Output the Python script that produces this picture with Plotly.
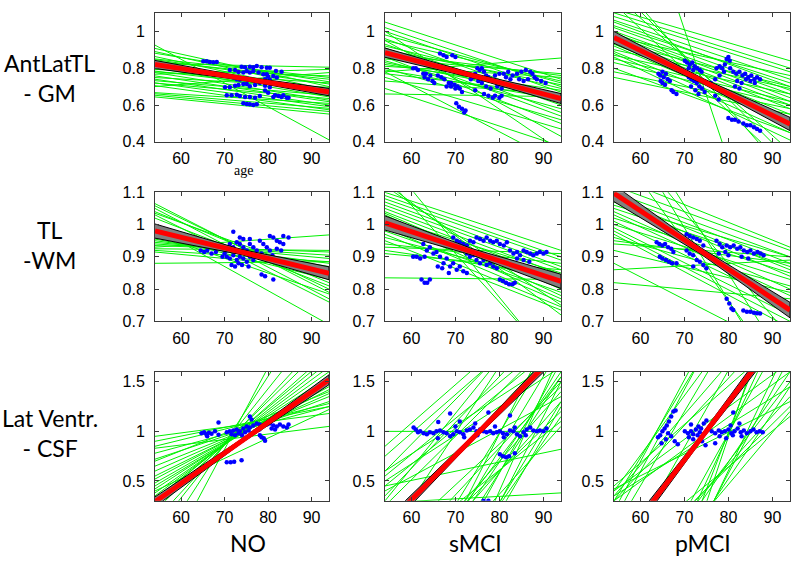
import plotly.graph_objects as go

# ---------------- data ----------------
age_range = [54, 94]
age_ticks = [60, 70, 80, 90]
band_ages = [54, 74, 94]

row_names = ["AntLatTL<br>- GM", "TL<br>-WM", "Lat Ventr.<br>- CSF"]
col_names = ["NO", "sMCI", "pMCI"]

gm_range = [0.4, 1.1]
gm_ticks = [0.4, 0.6, 0.8, 1.0]
gm_ticktext = ["0.4", "0.6", "0.8", "1"]
wm_range = [0.7, 1.1]
wm_ticks = [0.7, 0.8, 0.9, 1.0, 1.1]
wm_ticktext = ["0.7", "0.8", "0.9", "1", "1.1"]
csf_range = [0.3, 1.6]
csf_ticks = [0.5, 1.0, 1.5]
csf_ticktext = ["0.5", "1", "1.5"]

# individual subject fits: value at age 54 (left) and at age 94 (right)
gm_no_left = [0.925, 0.907, 0.89, 0.881, 0.863, 0.846, 0.837, 0.825, 0.811, 0.802, 0.793, 0.784, 0.776,
              0.767, 0.758, 0.749, 0.740, 0.732, 0.719, 0.705, 0.667, 0.661, 0.653, 0.644, 0.70, 0.72,
              0.85, 0.78]
gm_no_right = [0.411, 0.70, 0.68, 0.726, 0.66, 0.714, 0.74, 0.805, 0.688, 0.644, 0.758, 0.674, 0.626,
               0.793, 0.618, 0.696, 0.60, 0.653, 0.635, 0.574, 0.609, 0.582, 0.565, 0.551, 0.776, 0.591,
               0.75, 0.72]
gm_smci_left = [1.05, 1.02, 1.00, 0.98, 0.96, 0.95, 0.93, 0.92, 0.91, 0.90, 0.89, 0.88, 0.87, 0.86, 0.85,
                0.84, 0.83, 0.82, 0.81, 0.80, 0.79, 0.78, 0.77, 0.75, 0.73, 0.66, 0.78, 0.69, 0.95, 1.0]
gm_smci_right = [0.74, 0.70, 0.67, 0.72, 0.62, 0.73, 0.60, 0.69, 0.56, 0.71, 0.54, 0.76, 0.64, 0.50, 0.77,
                 0.58, 0.65, 0.68, 0.75, 0.52, 0.63, 0.855, 0.66, 0.47, 0.66, 0.645, 0.28, 0.376, 0.43, 0.35]
gm_pmci_left = [1.12, 1.10, 1.08, 1.06, 1.05, 1.03, 1.02, 1.00, 0.99, 0.98, 0.97, 0.96, 0.95, 0.94, 0.93, 0.92,
                0.90, 0.89, 0.88, 0.87, 0.86, 0.85, 0.83, 0.80, 0.78, 0.75, 1.20, 1.25, 1.15, 2.15, 1.30]
gm_pmci_right = [0.84, 0.80, 0.78, 0.74, 0.70, 0.72, 0.68, 0.66, 0.64, 0.62, 0.76, 0.60, 0.58, 0.70, 0.55, 0.52,
                 0.69, 0.50, 0.45, 0.66, 0.41, 0.62, 0.60, 0.45, 0.58, 0.55, 0.35, 0.30, 0.25, -0.70, 0.20]

wm_no_left = [1.065, 1.058, 1.05, 1.04, 1.035, 1.03, 1.02, 0.97, 0.965, 0.96, 0.955, 0.95, 0.945, 0.94,
              0.935, 0.93, 0.925, 0.92, 0.915, 0.88, 0.99, 0.97]
wm_no_right = [0.79, 0.80, 0.77, 0.82, 0.84, 0.76, 0.81, 0.85, 0.83, 0.87, 0.86, 0.88, 0.895, 0.905,
               0.915, 0.968, 0.92, 0.885, 0.865, 0.885, 0.69, 0.785]
wm_smci_left = [1.10, 1.09, 1.08, 1.07, 1.06, 1.05, 1.04, 1.035, 1.03, 1.02, 1.01, 1.00, 0.99, 0.98, 0.97,
                0.96, 0.95, 0.94, 0.93, 0.92, 0.91, 0.835, 1.21, 1.15, 1.13, 1.12]
wm_smci_right = [0.92, 0.90, 0.89, 0.87, 0.86, 0.845, 0.83, 0.80, 0.78, 0.85, 0.77, 0.81, 0.76, 0.79, 0.745,
                 0.82, 0.735, 0.88, 0.91, 0.84, 0.86, 0.83, 0.54, 0.55, 0.72, 0.75]
wm_pmci_left = [1.15, 1.12, 1.10, 1.09, 1.08, 1.07, 1.06, 1.05, 1.04, 1.03, 1.02, 1.01, 1.00, 0.99, 0.98,
                0.97, 0.96, 0.95, 0.94, 0.92, 0.88, 0.86, 0.82, 1.30, 1.40, 1.25, 1.35]
wm_pmci_right = [0.93, 0.92, 0.90, 0.88, 0.86, 0.84, 0.90, 0.87, 0.80, 0.78, 0.85, 0.75, 0.83, 0.72, 0.70,
                 0.68, 0.81, 0.88, 0.90, 0.79, 0.60, 0.89, 0.77, 0.65, 0.55, 0.50, 0.45]

csf_no_left = [0.83, 0.78, 0.72, 0.65, 0.60, 0.55, 0.52, 0.48, 0.45, 0.42, 0.40, 0.38, 0.35, 0.32, 0.30,
               0.25, 0.20, 0.10, 0.00, 0.90, 0.95, 0.85, 0.70, -0.20, -0.50]
csf_no_right = [1.05, 1.25, 1.30, 1.35, 1.38, 1.42, 1.45, 1.48, 1.50, 1.55, 1.22, 1.60, 1.65, 1.70, 1.75,
                1.80, 1.90, 2.00, 2.20, 1.25, 1.18, 1.28, 1.40, 2.50, 2.80]
csf_smci_left = [0.85, 0.75, 0.60, 0.55, 0.45, 0.60, 0.35, 0.30, 0.25, -1.0, -0.8, -0.6, -0.7, -0.4, -0.5,
                 -0.2, -1.2, -1.5, -0.3, 0.0, -0.9, -1.3, 1.0, 0.28, 0.45, 0.50, 0.40, -0.1, -1.1,
                 -1.6, -2.0, -1.4, -0.9, -2.2, -1.8]
csf_smci_right = [2.40, 2.30, 2.40, 2.00, 1.90, 1.75, 2.20, 2.50, 2.00, 1.60, 1.55, 1.40, 1.30, 1.50, 1.20,
                  1.45, 1.55, 1.70, 1.10, 1.90, 2.00, 2.20, 1.00, 0.38, 0.82, 1.65, 1.35, 2.60, 1.85,
                  1.30, 1.50, 1.15, 1.05, 1.80, 1.25]
csf_pmci_left = [0.20, 0.30, 0.10, 0.40, 0.00, 0.35, 0.30, 0.45, 0.40, -1.5, -1.0, -0.8, -1.2, -0.6, -0.5,
                 -0.3, -2.0, -1.8, -1.6, -2.5, -0.9, 0.30, 0.35, 0.42, -0.4, -1.1]
csf_pmci_right = [3.50, 3.20, 3.40, 2.80, 3.00, 2.40, 2.20, 2.00, 1.70, 2.30, 1.60, 1.50, 1.45, 1.35, 1.25,
                  1.15, 2.60, 1.90, 1.75, 2.80, 1.20, 1.60, 1.45, 1.30, 2.70, 2.10]

# measurements (age, value)
gm_no_dots = [(65.1, 0.837), (65.9, 0.837), (66.6, 0.833), (67.4, 0.832), (68.2, 0.833),
              (73.9, 0.807), (74.7, 0.805), (75.8, 0.807), (76.6, 0.805), (77.4, 0.811), (78.5, 0.805),
              (79.7, 0.802), (80.4, 0.802), (81.8, 0.784), (83.1, 0.781),
              (71.2, 0.790), (72.4, 0.790), (73.2, 0.779), (74.3, 0.776), (75.1, 0.784), (75.8, 0.776),
              (76.6, 0.784), (77.8, 0.776), (78.9, 0.767), (79.7, 0.767), (80.0, 0.754), (81.2, 0.758),
              (82.0, 0.749),
              (72.0, 0.749), (72.8, 0.740), (73.5, 0.737), (75.1, 0.744), (76.2, 0.737), (77.4, 0.732),
              (78.1, 0.726), (79.3, 0.740), (80.4, 0.737), (81.6, 0.719), (82.7, 0.714),
              (70.1, 0.696), (71.2, 0.696), (72.4, 0.705), (73.2, 0.709), (74.3, 0.714), (75.1, 0.714),
              (75.8, 0.702), (77.0, 0.709), (78.1, 0.719), (79.3, 0.705), (80.4, 0.696),
              (70.5, 0.653), (71.6, 0.653), (72.8, 0.656), (73.5, 0.649), (74.7, 0.644), (75.8, 0.644),
              (77.0, 0.639), (78.1, 0.649),
              (74.3, 0.609), (75.1, 0.605), (75.8, 0.604), (76.6, 0.600), (77.4, 0.604),
              (81.2, 0.644), (81.6, 0.653), (82.4, 0.649), (83.1, 0.644), (83.5, 0.653), (84.3, 0.639),
              (84.7, 0.639), (79.3, 0.679), (80.0, 0.667)]
gm_smci_dots = [(60.4, 0.80), (61.0, 0.80), (61.5, 0.79), (62.7, 0.77), (63.3, 0.77), (63.0, 0.75), (63.8, 0.74),
                (64.3, 0.76), (64.8, 0.73), (65.2, 0.72), (66.0, 0.76), (66.5, 0.88), (67.3, 0.87), (68.0, 0.86),
                (69.3, 0.87), (70.0, 0.86), (66.8, 0.75), (67.5, 0.74), (68.5, 0.72), (69.0, 0.72), (69.8, 0.71),
                (70.5, 0.70), (71.0, 0.69), (71.5, 0.67), (68.0, 0.70), (69.0, 0.70), (70.0, 0.69), (70.2, 0.61),
                (70.8, 0.59), (71.5, 0.58), (72.0, 0.56), (72.3, 0.57), (73.5, 0.74), (74.0, 0.75), (74.5, 0.77),
                (75.0, 0.80), (75.5, 0.79), (76.0, 0.80), (76.5, 0.78), (77.0, 0.76), (77.5, 0.75), (75.2, 0.73),
                (76.0, 0.72), (77.0, 0.70), (78.0, 0.69), (74.5, 0.68), (76.5, 0.66), (77.5, 0.65), (78.5, 0.64),
                (79.0, 0.65), (80.0, 0.64), (80.5, 0.65), (79.0, 0.76), (80.0, 0.77), (81.0, 0.77), (82.0, 0.78),
                (81.5, 0.75), (82.5, 0.74), (83.0, 0.76), (84.0, 0.77), (85.0, 0.78), (86.0, 0.79), (87.0, 0.78),
                (87.5, 0.77), (88.0, 0.75), (88.5, 0.74), (89.5, 0.73), (90.5, 0.72), (84.5, 0.74), (85.5, 0.73),
                (86.5, 0.74), (79.5, 0.70), (80.5, 0.69)]
gm_pmci_dots = [(64.1, 0.77), (64.5, 0.76), (65.0, 0.78), (65.3, 0.75), (65.8, 0.77), (66.2, 0.74), (66.7, 0.73),
                (65.0, 0.72), (65.6, 0.71), (64.6, 0.73), (67.1, 0.68), (67.5, 0.67), (68.2, 0.66),
                (70.1, 0.84), (70.6, 0.83), (71.2, 0.82), (71.8, 0.83), (72.3, 0.81), (72.9, 0.80), (73.5, 0.79),
                (73.9, 0.78), (71.0, 0.80), (72.0, 0.79), (71.0, 0.75), (71.6, 0.74), (72.2, 0.73), (72.8, 0.72),
                (73.4, 0.70), (74.0, 0.69), (74.6, 0.67), (72.5, 0.68), (73.2, 0.66), (71.5, 0.70),
                (77.3, 0.80), (78.0, 0.81), (78.6, 0.80), (79.2, 0.82), (79.6, 0.85), (80.0, 0.86), (80.3, 0.84),
                (79.0, 0.78), (80.4, 0.80), (81.1, 0.78), (81.8, 0.77), (82.5, 0.78), (83.2, 0.76), (83.8, 0.77),
                (84.5, 0.75), (85.2, 0.76), (85.9, 0.74), (86.5, 0.75), (87.2, 0.74), (82.0, 0.73), (83.0, 0.72),
                (84.0, 0.74), (85.0, 0.73), (86.0, 0.72), (81.5, 0.70), (82.5, 0.69), (78.0, 0.76), (77.0, 0.74),
                (76.0, 0.72), (80.0, 0.53), (80.8, 0.52), (81.5, 0.52), (82.3, 0.51), (83.4, 0.50), (84.2, 0.49),
                (85.0, 0.49), (85.8, 0.48), (86.5, 0.47), (87.2, 0.46), (77.0, 0.65), (77.8, 0.63)]

wm_no_dots = [(64.5, 0.92), (65.3, 0.915), (66.0, 0.92), (67.0, 0.91), (68.0, 0.915), (72.0, 0.978),
              (73.5, 0.96), (74.3, 0.955), (75.8, 0.955), (69.7, 0.93), (70.5, 0.92), (71.2, 0.94), (72.0, 0.93),
              (72.8, 0.945), (73.5, 0.94), (74.3, 0.93), (75.1, 0.92), (75.8, 0.94), (76.6, 0.93), (77.4, 0.92),
              (70.5, 0.90), (71.2, 0.895), (72.0, 0.905), (72.8, 0.89), (73.5, 0.90), (74.3, 0.895),
              (75.1, 0.885), (75.8, 0.90), (76.6, 0.89), (71.6, 0.875), (72.4, 0.87), (73.2, 0.88), (74.0, 0.875),
              (75.5, 0.87), (70.0, 0.91), (69.5, 0.90), (78.1, 0.95), (78.9, 0.94), (79.7, 0.93), (80.4, 0.92),
              (78.5, 0.91), (79.3, 0.90), (80.0, 0.895), (81.0, 0.905), (80.4, 0.965), (81.2, 0.96), (82.0, 0.95),
              (82.7, 0.945), (83.5, 0.94), (83.5, 0.965), (84.7, 0.96), (79.3, 0.84), (78.5, 0.845),
              (81.2, 0.83), (82.0, 0.925), (83.0, 0.92)]
wm_smci_dots = [(60.4, 0.90), (61.2, 0.90), (62.0, 0.895), (62.7, 0.94), (63.5, 0.92), (64.2, 0.93), (65.0, 0.91),
                (63.0, 0.90), (62.3, 0.83), (63.0, 0.82), (63.6, 0.82), (64.2, 0.83), (65.7, 0.915), (66.5, 0.90),
                (67.3, 0.88), (68.0, 0.895), (68.8, 0.87), (69.5, 0.88), (70.3, 0.86), (71.0, 0.87), (71.8, 0.855),
                (72.6, 0.85), (66.0, 0.87), (67.0, 0.865), (68.5, 0.85), (69.5, 0.96), (70.3, 0.95), (71.0, 0.945),
                (71.8, 0.94), (72.6, 0.935), (73.3, 0.95), (74.1, 0.945), (74.8, 0.96), (75.6, 0.955), (76.4, 0.95),
                (77.1, 0.96), (72.6, 0.91), (73.3, 0.90), (74.1, 0.905), (74.8, 0.89), (75.6, 0.88), (76.4, 0.89),
                (77.1, 0.875), (77.9, 0.88), (78.6, 0.87), (79.4, 0.865), (77.9, 0.95), (78.6, 0.945), (79.4, 0.95),
                (80.1, 0.94), (81.0, 0.935), (81.7, 0.945), (80.1, 0.83), (80.8, 0.825), (81.5, 0.82),
                (82.2, 0.815), (83.0, 0.815), (83.5, 0.82), (82.4, 0.92), (83.2, 0.91), (84.0, 0.915),
                (84.7, 0.905), (85.5, 0.92), (86.2, 0.915), (87.0, 0.91), (87.7, 0.905), (88.5, 0.91),
                (89.2, 0.915), (90.0, 0.91), (90.7, 0.915), (84.0, 0.895), (85.5, 0.89), (86.8, 0.885)]
wm_pmci_dots = [(63.7, 0.945), (64.3, 0.94), (65.0, 0.935), (65.6, 0.94), (66.3, 0.93), (67.0, 0.925),
                (67.5, 0.915), (64.4, 0.90), (65.0, 0.895), (65.8, 0.89), (66.5, 0.885), (67.2, 0.88),
                (68.2, 0.88), (70.5, 0.97), (71.2, 0.965), (72.0, 0.96), (72.8, 0.955), (73.5, 0.95), (74.3, 0.935),
                (71.5, 0.94), (70.5, 0.92), (71.2, 0.91), (72.0, 0.905), (72.8, 0.89), (73.5, 0.885), (74.3, 0.875),
                (75.0, 0.865), (72.0, 0.87), (77.3, 0.95), (78.0, 0.94), (78.6, 0.93), (79.3, 0.915), (80.0, 0.905),
                (77.8, 0.91), (79.6, 0.935), (80.4, 0.93), (81.2, 0.935), (82.0, 0.925), (82.7, 0.93), (83.5, 0.92),
                (84.3, 0.915), (85.0, 0.92), (85.8, 0.91), (86.6, 0.915), (87.3, 0.91), (88.0, 0.905), (83.0, 0.90),
                (84.5, 0.895), (79.6, 0.77), (80.2, 0.755), (80.7, 0.74), (81.1, 0.735), (83.4, 0.734),
                (84.2, 0.73), (85.0, 0.73), (85.8, 0.727), (86.5, 0.725), (87.2, 0.724)]

csf_no_dots = [(64.7, 0.98), (65.3, 0.99), (65.8, 0.97), (66.4, 0.985), (67.0, 0.975), (67.8, 1.0), (68.6, 0.965),
               (66.0, 0.95), (68.6, 1.09), (70.5, 0.99), (71.2, 1.0), (72.0, 1.01), (72.8, 1.02), (73.5, 1.0),
               (74.3, 1.03), (75.1, 1.05), (75.8, 1.04), (76.6, 1.06), (77.4, 1.08), (78.1, 1.07), (71.6, 0.97),
               (72.4, 0.96), (73.2, 0.98), (74.0, 0.96), (74.7, 0.99), (75.5, 1.01), (76.2, 0.98), (77.0, 1.0),
               (78.0, 1.02), (75.8, 1.15), (76.2, 1.12), (70.5, 0.69), (71.4, 0.69), (72.2, 0.695), (73.9, 0.71),
               (78.1, 0.96), (78.5, 0.94), (79.0, 0.93), (79.3, 0.905), (79.7, 1.07), (80.4, 1.08), (81.2, 1.06),
               (82.0, 1.05), (82.7, 1.07), (83.5, 1.05), (84.3, 1.04), (84.7, 1.07), (80.8, 1.03), (81.6, 1.02)]
csf_smci_dots = [(60.5, 1.04), (61.0, 1.02), (61.5, 0.99), (62.0, 1.0), (62.8, 0.98), (63.5, 0.97), (64.2, 0.99),
                 (65.0, 0.98), (65.7, 1.0), (66.5, 1.01), (67.3, 0.99), (68.0, 0.98), (68.8, 0.95), (69.5, 0.97),
                 (70.3, 1.0), (71.0, 0.99), (71.8, 0.97), (72.6, 1.01), (73.3, 1.02), (74.1, 1.04), (74.8, 1.0),
                 (75.6, 1.02), (76.4, 1.0), (77.1, 0.99), (77.9, 1.0), (78.6, 0.98), (79.4, 0.99), (80.1, 1.0),
                 (80.8, 0.98), (81.7, 0.97), (82.4, 1.01), (83.2, 1.0), (84.0, 0.97), (84.7, 0.95), (85.5, 0.99),
                 (86.2, 1.02), (87.0, 1.04), (87.7, 1.01), (88.5, 1.0), (89.2, 1.01), (90.0, 1.0), (90.7, 1.03),
                 (70.0, 1.05), (72.0, 0.94), (66.0, 0.93), (75.0, 0.96), (79.0, 1.05), (81.0, 0.94), (83.5, 1.04),
                 (86.0, 0.96), (68.8, 1.18), (66.1, 1.095), (77.5, 1.19), (82.4, 1.16), (71.0, 1.1), (74.5, 1.08),
                 (80.1, 0.77), (80.8, 0.75), (81.5, 0.74), (82.2, 0.75), (83.5, 0.78), (76.4, 0.30), (77.5, 0.30)]
csf_pmci_dots = [(64.0, 0.94), (64.5, 0.96), (65.0, 1.0), (65.5, 1.03), (66.0, 1.06), (66.5, 1.1), (67.0, 1.15),
                 (67.5, 1.2), (68.0, 1.21), (66.3, 0.98), (67.0, 0.95), (67.8, 0.9), (68.5, 0.87), (65.8, 0.92),
                 (64.8, 0.88), (70.1, 1.0), (70.8, 0.98), (71.5, 1.0), (72.0, 0.97), (72.6, 1.02), (73.2, 1.05),
                 (73.8, 1.03), (74.4, 1.08), (75.0, 1.11), (71.0, 0.94), (72.0, 0.92), (73.0, 0.96), (74.0, 0.9),
                 (74.8, 0.86), (71.5, 1.07), (73.5, 0.99), (76.2, 1.0), (77.0, 0.98), (77.8, 1.01), (78.5, 0.99),
                 (79.2, 1.0), (80.0, 1.02), (80.7, 0.98), (81.4, 1.0), (82.1, 1.03), (82.8, 0.99), (83.5, 1.01),
                 (84.2, 0.98), (85.0, 1.0), (85.7, 1.02), (86.4, 0.99), (87.1, 1.0), (87.8, 0.99), (78.0, 0.95),
                 (79.5, 0.93), (81.0, 0.96), (83.0, 0.95), (80.5, 1.06), (82.5, 1.08), (81.1, 1.19), (77.0, 0.88)]

# group mean fit (value at 54 and 94) and confidence half-widths at band_ages
gm_no_mean = [0.82, 0.67]
gm_no_hw = [0.022, 0.010, 0.020]
gm_smci_mean = [0.884, 0.635]
gm_smci_hw = [0.025, 0.012, 0.027]
gm_pmci_mean = [0.967, 0.497]
gm_pmci_hw = [0.032, 0.014, 0.036]
wm_no_mean = [0.98, 0.849]
wm_no_hw = [0.022, 0.008, 0.020]
wm_smci_mean = [1.005, 0.824]
wm_smci_hw = [0.022, 0.010, 0.022]
wm_pmci_mean = [1.097, 0.735]
wm_pmci_hw = [0.026, 0.010, 0.024]
csf_no_mean = [0.29, 1.52]
csf_no_hw = [0.05, 0.02, 0.05]
csf_smci_mean = [0.043, 1.827]
csf_smci_hw = [0.06, 0.025, 0.06]
csf_pmci_mean = [-0.22, 2.11]
csf_pmci_hw = [0.07, 0.03, 0.07]

# ---------------- layout helpers ----------------
W, H = 791, 570
col_px = [(155, 329), (385, 561), (614, 790)]
row_px = [(5, 138), (190, 323), (375, 508)]

rows = [
    (gm_range, gm_ticks, gm_ticktext,
     [(gm_no_left, gm_no_right, gm_no_dots, gm_no_mean, gm_no_hw),
      (gm_smci_left, gm_smci_right, gm_smci_dots, gm_smci_mean, gm_smci_hw),
      (gm_pmci_left, gm_pmci_right, gm_pmci_dots, gm_pmci_mean, gm_pmci_hw)]),
    (wm_range, wm_ticks, wm_ticktext,
     [(wm_no_left, wm_no_right, wm_no_dots, wm_no_mean, wm_no_hw),
      (wm_smci_left, wm_smci_right, wm_smci_dots, wm_smci_mean, wm_smci_hw),
      (wm_pmci_left, wm_pmci_right, wm_pmci_dots, wm_pmci_mean, wm_pmci_hw)]),
    (csf_range, csf_ticks, csf_ticktext,
     [(csf_no_left, csf_no_right, csf_no_dots, csf_no_mean, csf_no_hw),
      (csf_smci_left, csf_smci_right, csf_smci_dots, csf_smci_mean, csf_smci_hw),
      (csf_pmci_left, csf_pmci_right, csf_pmci_dots, csf_pmci_mean, csf_pmci_hw)]),
]

fig = go.Figure()
layout = {}
axis_color = "#3a3a3a"
tick_font = dict(family="Liberation Sans, Arial, sans-serif", size=16, color="black")

for r, (yrange, yticks, yticktext, panels) in enumerate(rows):
    for c, (left, right, dots, mean, hw) in enumerate(panels):
        idx = r * 3 + c + 1
        xa = "x" if idx == 1 else f"x{idx}"
        ya = "y" if idx == 1 else f"y{idx}"
        gx, gy = [], []
        for a, b in zip(left, right):
            gx += [age_range[0], age_range[1], None]
            gy += [a, b, None]
        fig.add_trace(go.Scatter(x=gx, y=gy, mode="lines", line=dict(color="#00f000", width=1),
                                 xaxis=xa, yaxis=ya, hoverinfo="skip", showlegend=False))
        fig.add_trace(go.Scatter(x=[d[0] for d in dots], y=[d[1] for d in dots], mode="markers",
                                 marker=dict(color="#0000ff", size=4.5),
                                 xaxis=xa, yaxis=ya, showlegend=False, cliponaxis=True))
        slope = (mean[1] - mean[0]) / (age_range[1] - age_range[0])
        centre = [mean[0] + slope * (a - age_range[0]) for a in band_ages]
        upper = [m + h for m, h in zip(centre, hw)]
        lower = [m - h for m, h in zip(centre, hw)]
        fig.add_trace(go.Scatter(x=band_ages + band_ages[::-1], y=upper + lower[::-1], mode="lines",
                                 fill="toself", fillcolor="#808080", line=dict(color="black", width=1),
                                 xaxis=xa, yaxis=ya, hoverinfo="skip", showlegend=False))
        fig.add_trace(go.Scatter(x=age_range, y=mean, mode="lines", line=dict(color="#ff0000", width=5),
                                 xaxis=xa, yaxis=ya, hoverinfo="skip", showlegend=False))

        x0, x1 = col_px[c]
        y0, y1 = row_px[r]
        common = dict(showline=True, linecolor=axis_color, linewidth=1, mirror="ticks", ticks="inside",
                      ticklen=4, tickcolor=axis_color, showgrid=False, zeroline=False, tickfont=tick_font)
        layout["xaxis" if idx == 1 else f"xaxis{idx}"] = dict(
            domain=[x0 / W, x1 / W], range=age_range, tickvals=age_ticks,
            anchor=ya, ticklabelstandoff=2, **common)
        layout["yaxis" if idx == 1 else f"yaxis{idx}"] = dict(
            domain=[1 - y1 / H, 1 - y0 / H], range=yrange, tickvals=yticks, ticktext=yticktext,
            anchor=xa, ticklabelstandoff=6, **common)

label_font = dict(family="Lato, Open Sans, sans-serif", size=23, color="black")
annotations = []
row_label_y = [72, 244, 438]
for name, yc in zip(row_names, row_label_y):
    annotations.append(dict(text=name, x=50 / W, y=1 - yc / H, xref="paper", yref="paper",
                            xanchor="center", yanchor="middle",
                            showarrow=False, font=label_font, align="center"))
col_label_x = [248, 475, 703]
for name, xc in zip(col_names, col_label_x):
    annotations.append(dict(text=name, x=xc / W, y=1 - 551 / H, xref="paper", yref="paper",
                            xanchor="center", yanchor="middle", showarrow=False, font=label_font))
annotations.append(dict(text="age", x=243 / W, y=1 - 168 / H, xref="paper", yref="paper", showarrow=False,
                        xanchor="center", yanchor="middle",
                        font=dict(family="Liberation Serif, serif", size=14, color="black")))

fig.update_layout(width=W, height=H, margin=dict(l=0, r=0, t=0, b=0), paper_bgcolor="white",
                  plot_bgcolor="white", annotations=annotations, showlegend=False, **layout)
fig.write_html("out.html", config={"displayModeBar": False},
               post_script="document.body.style.margin='0';")
